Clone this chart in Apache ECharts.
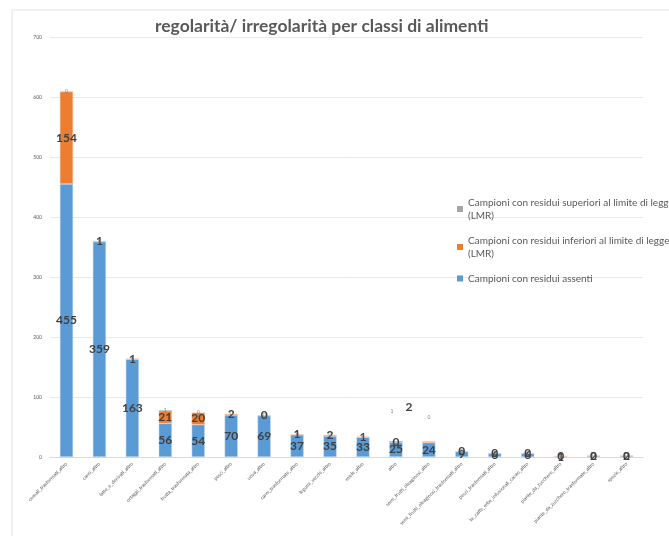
<!DOCTYPE html>
<html>
<head>
<meta charset="utf-8">
<script src="https://cdn.jsdelivr.net/npm/echarts@6/dist/echarts.min.js"></script>
<style>html,body{margin:0;padding:0;background:#fff}#c{width:669px;height:536px}</style>
</head>
<body>
<div id="c"></div>
<script>
const categories = ["cereali_trasformati_altro","carni_altro","latte_e_derivati_altro","ortaggi_trasformati_altro","frutta_trasformata_altro","pesci_altro","uova_altro","carni_trasformate_altro","legumi_secchi_altro","miele_altro","altro","semi_frutti_oleaginosi_altro","semi_frutti_oleaginosi_trasformati_altro","pesci_trasformati_altro","te_caffe_erbe_infusionali_cacao_altro","piante_da_zucchero_altro","piante_da_zucchero_trasformate_altro","spezie_altro"];
const assenti   = [455,359,163,56,54,70,69,37,35,33,25,24,9,6,6,1,2,2];
const inferiori = [154,1,1,21,20,2,0,1,2,1,0,2,0,0,0,0,0,0];
const superiori = [0,0,0,1,0,0,0,0,0,0,1,0,0,0,0,0,0,0];
const yTicks = [0,100,200,300,400,500,600,700];

const names = {
  sup: "Campioni con residui superiori al limite di legge\n(LMR)",
  inf: "Campioni con residui inferiori al limite di legge\n(LMR)",
  ass: "Campioni con residui assenti"
};
// label displacement overrides (styling only)
const labelShift = { inf: {11: [-20,-35]}, sup: {10: [-4,-30], 11: [0,-24]} };

function mk(values, key) {
  return values.map((v, i) => {
    const o = { value: v };
    if (labelShift[key] && labelShift[key][i]) o.label = { offset: labelShift[key][i] };
    return o;
  });
}
const bigLabel = { show: true, position: 'inside', color: '#404040', fontSize: 12, fontWeight: 'bold', fontFamily: 'Lato' };

const chart = echarts.init(document.getElementById('c'));
chart.setOption({
  animation: false,
  graphic: [{ type: 'rect', shape: { x: 12, y: 10, width: 700, height: 600 }, style: { fill: 'none', stroke: '#e3e3e3', lineWidth: 1 }, silent: true }],
  title: { text: 'regolarità/ irregolarità per classi di alimenti', left: 150, top: 12,
    textStyle: { fontFamily: 'Lato', fontSize: 17.5, fontWeight: 'bold', color: '#595959' } },
  legend: {
    orient: 'vertical', left: 452, top: 191, itemWidth: 6, itemHeight: 6, itemGap: 12,
    icon: 'rect',
    itemStyle: { borderWidth: 0 },
    data: [names.sup, names.inf, names.ass],
    textStyle: { fontFamily: 'Lato', fontSize: 10, color: '#595959', lineHeight: 13 }
  },
  grid: { left: 50, right: 26, top: 37, bottom: 79, containLabel: false },
  xAxis: {
    type: 'category', data: categories,
    axisLine: { lineStyle: { color: '#d9d9d9' } },
    axisTick: { show: false },
    axisLabel: { interval: 0, rotate: 45, fontSize: 5, color: '#595959', fontFamily: 'Lato', margin: 6 }
  },
  yAxis: {
    type: 'value', min: yTicks[0], max: yTicks[yTicks.length - 1], interval: 100,
    axisLine: { show: false }, axisTick: { show: false },
    axisLabel: { fontSize: 5, color: '#595959', fontFamily: 'Lato', margin: 8 },
    splitLine: { lineStyle: { color: '#e8e8e8' } }
  },
  series: [
    { name: names.ass, type: 'bar', stack: 's', barWidth: '40%', data: mk(assenti, 'ass'),
      itemStyle: { color: '#5B9BD5', borderColor: '#c9ddf0', borderWidth: 0.5 }, label: bigLabel },
    { name: names.inf, type: 'bar', stack: 's', data: mk(inferiori, 'inf'),
      itemStyle: { color: '#ED7D31', borderColor: '#f7c9a8', borderWidth: 0.5 }, label: bigLabel },
    { name: names.sup, type: 'bar', stack: 's', data: mk(superiori, 'sup'),
      itemStyle: { color: '#A5A5A5' },
      label: { show: true, position: 'inside', color: '#7f7f7f', fontSize: 5, fontFamily: 'Lato' } }
  ]
});
</script>
</body>
</html>
